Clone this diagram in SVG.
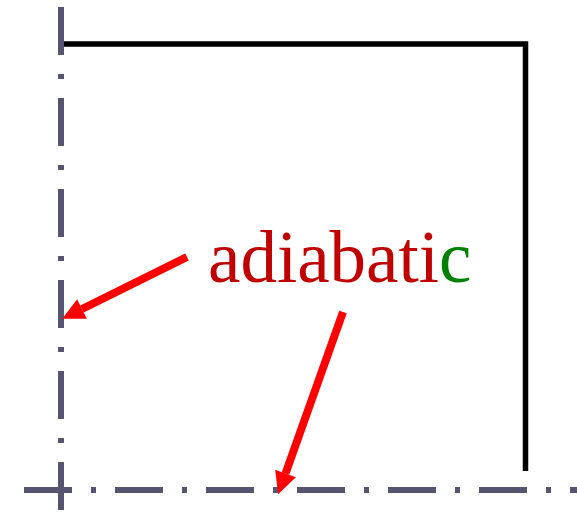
<svg xmlns="http://www.w3.org/2000/svg" width="577" height="512" viewBox="0 0 577 512">
<style>
.axis{stroke:#55556f;stroke-width:6;fill:none;stroke-dasharray:48 19 5 19}
.wall{stroke:#000;stroke-width:5.5;fill:none;stroke-linejoin:miter}
.arr{stroke:#ff0000;stroke-width:8;fill:none;marker-end:url(#ah)}
.lbl{font-family:"Liberation Serif","Times New Roman",serif;font-size:73px;fill:#c00000}
</style>
<defs>
<marker id="ah" markerUnits="userSpaceOnUse" markerWidth="23" markerHeight="24" refX="0" refY="11" orient="auto" overflow="visible">
<path d="M0,0 L22,11 L0,22 z" fill="#ff0000"/>
</marker>
</defs>
<g id="boundaries">
<line id="left-axis" class="axis" x1="61" y1="7" x2="61" y2="512"/>
<line id="bottom-axis" class="axis" x1="24" y1="490" x2="577" y2="490"/>
<path id="wall" class="wall" d="M64,44 H525.5 V471"/>
</g>
<g id="label">
<text class="lbl" x="208" y="282">adiabati<tspan fill="#008000">c</tspan></text>
</g>
<g id="connectors">
<line class="arr" x1="187" y1="257" x2="82" y2="309"/>
<line class="arr" x1="343" y1="312" x2="285.5" y2="473.5"/>
</g>
</svg>
